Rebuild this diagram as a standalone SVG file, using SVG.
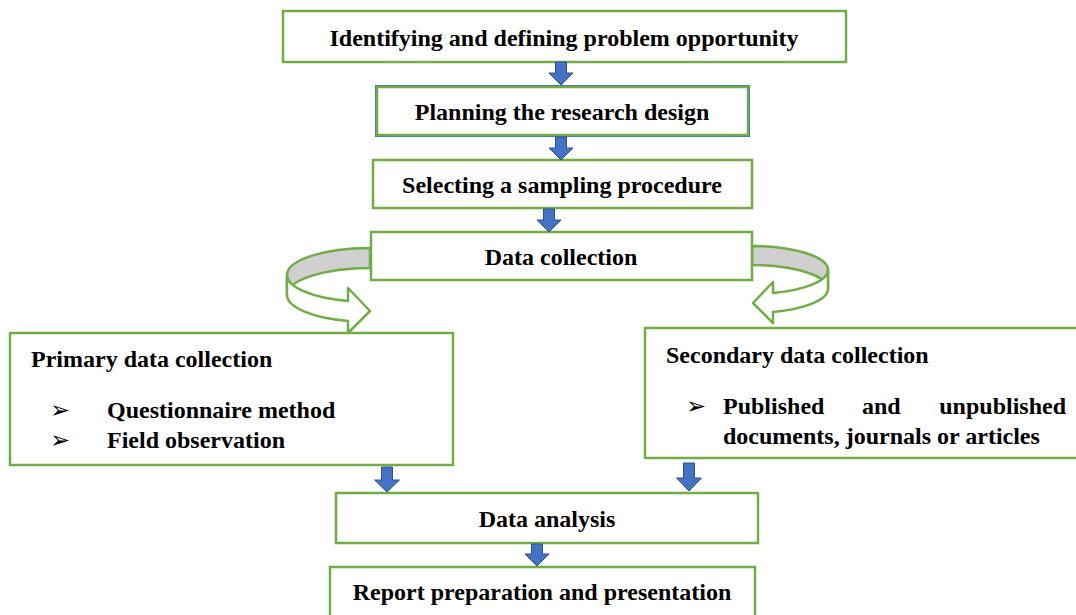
<svg xmlns="http://www.w3.org/2000/svg" width="1076" height="615" viewBox="0 0 1076 615">
  <style>
    .box { fill: #ffffff; stroke: #70AD47; stroke-width: 2.5; }
    .t { font-family: "Liberation Serif", "Times New Roman", serif; font-weight: bold; font-size: 24px; fill: #000000; }
    .c { text-anchor: middle; }
    .bul { font-family: "DejaVu Sans", sans-serif; font-size: 24px; fill: #000000; }
    .down { fill: #4472C4; stroke: #2F528F; stroke-width: 1; }
    .band-back { fill: #D0D0D0; stroke: #70AD47; stroke-width: 2.5; stroke-linejoin: round; }
    .band-front { fill: #ffffff; stroke: #70AD47; stroke-width: 2.5; stroke-linejoin: round; }
  </style>

  <!-- flow steps -->
  <g id="step-identify">
    <rect class="box" x="283" y="11" width="563" height="51"/>
    <text class="t c" x="564" y="46">Identifying and defining problem opportunity</text>
  </g>
  <g id="step-planning">
    <rect x="375.5" y="85.5" width="374" height="51" fill="none" stroke="#4472C4" stroke-width="1"/>
    <rect class="box" x="377" y="87" width="371" height="48"/>
    <text class="t c" x="562" y="120">Planning the research design</text>
  </g>
  <g id="step-sampling">
    <rect class="box" x="373" y="160" width="379" height="48"/>
    <text class="t c" x="562" y="193">Selecting a sampling procedure</text>
  </g>

  <!-- curved split arrows around the data collection step -->
  <g id="split-left">
    <path class="band-back" d="M 370,248 A 83 27 0 0 0 287,275 L 287,295 A 83 27 0 0 1 370,268 Z"/>
    <path class="band-front" d="M 287,275 A 83 27 0 0 0 348,301 L 348,288 L 370,311 L 348,333 L 348,321 A 83 27 0 0 1 287,295 Z"/>
  </g>
  <g id="split-right">
    <path class="band-back" d="M 752,246 A 76 24 0 0 1 828,270 L 828,289 A 76 24 0 0 0 752,265 Z"/>
    <path class="band-front" d="M 828,270 A 76 24 0 0 1 773,293 L 773,282 L 753,303 L 773,323 L 773,312 A 76 24 0 0 0 828,289 Z"/>
  </g>

  <g id="step-collection">
    <rect class="box" x="371" y="232" width="381" height="48"/>
    <text class="t c" x="561" y="265">Data collection</text>
  </g>

  <g id="primary">
    <rect class="box" x="10" y="333" width="443" height="132"/>
    <text class="t" x="31" y="367">Primary data collection</text>
    <text class="bul" x="50" y="418">➢</text>
    <text class="t" x="107" y="418">Questionnaire method</text>
    <text class="bul" x="50" y="448">➢</text>
    <text class="t" x="107" y="448">Field observation</text>
  </g>

  <g id="secondary">
    <rect class="box" x="645" y="328" width="436" height="130"/>
    <text class="t" x="666" y="363">Secondary data collection</text>
    <text class="bul" x="686" y="414">➢</text>
    <text class="t" x="723" y="414">Published</text>
    <text class="t" x="862" y="414">and</text>
    <text class="t" x="1066" y="414" text-anchor="end">unpublished</text>
    <text class="t" x="723" y="444">documents, journals or articles</text>
  </g>

  <g id="step-analysis">
    <rect class="box" x="336" y="493" width="422" height="50"/>
    <text class="t c" x="547" y="527">Data analysis</text>
  </g>
  <g id="step-report">
    <rect class="box" x="330" y="567" width="425" height="60"/>
    <text class="t c" x="542" y="600">Report preparation and presentation</text>
  </g>

  <!-- block arrows between steps -->
  <g id="connectors">
    <path class="down" d="M 555.5,62 H 566.5 V 73 H 573 L 561,85 L 549,73 H 555.5 Z"/>
    <path class="down" d="M 555.5,137 H 566.5 V 148 H 573 L 561,160 L 549,148 H 555.5 Z"/>
    <path class="down" d="M 543.5,209 H 554.5 V 220 H 561 L 549,232 L 537,220 H 543.5 Z"/>
    <path class="down" d="M 381.5,467 H 392.5 V 480 H 399.5 L 387,492 L 374.5,480 H 381.5 Z"/>
    <path class="down" d="M 683.5,463 H 694.5 V 478 H 701.5 L 689,491 L 676.5,478 H 683.5 Z"/>
    <path class="down" d="M 531.5,544 H 542.5 V 554 H 549 L 537,566 L 525,554 H 531.5 Z"/>
  </g>
</svg>
